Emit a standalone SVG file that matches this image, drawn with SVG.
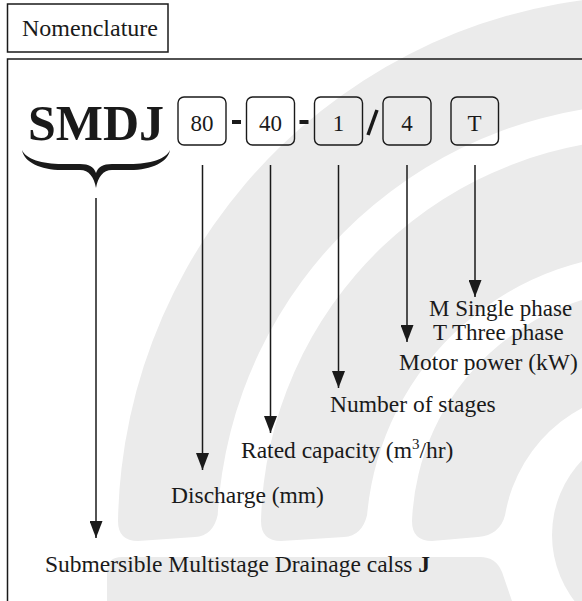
<svg xmlns="http://www.w3.org/2000/svg" width="582" height="601" viewBox="0 0 582 601">
<defs>
<style>
.t{font-family:"Liberation Serif","Times New Roman",serif;fill:#1a1a1a;font-size:23.5px}
.box{fill:none;stroke:#1a1a1a;stroke-width:1.5}
.code{fill:none;stroke:#1a1a1a;stroke-width:1.4}
.dig{font-family:"Liberation Serif","Times New Roman",serif;fill:#1a1a1a;font-size:23px;text-anchor:middle}
.ln{stroke:#1a1a1a;stroke-width:1.5;fill:none}
.wm{fill:#ebebeb}
</style>
<marker id="ah" markerUnits="userSpaceOnUse" markerWidth="17" markerHeight="13" viewBox="0 0 17 13" refX="17" refY="6.5" orient="auto">
<path d="M0,0 L17,6.5 L0,13 Z" fill="#1a1a1a"/>
</marker>
</defs>
<rect width="582" height="601" fill="#ffffff"/>
<g id="watermark">
<path class="wm" d="M118,521 A535,535 0 0 1 1188,540 L1089,540 A436,436 0 0 0 217.7,515 Q213,536 195,537 L138,541 Q118,541 118,521 Z"/>
<path class="wm" d="M261,521 A392,392 0 0 1 1045,540 L940,540 A287,287 0 0 0 367.1,515 Q362,536 344,537 L281,541 Q261,541 261,521 Z"/>
<path class="wm" d="M412,521 A241,241 0 0 1 894,540 L803,540 A150,150 0 0 0 505.1,515 Q500,535 478,537 L432,541 Q412,541 412,521 Z"/>
<circle class="wm" cx="660" cy="535" r="108"/>
<path class="wm" d="M107,601 L107,572 Q107,557 122,557 L480,557 Q496,557 502,572 L512,601 Z"/>
</g>
<g id="frame">
<rect class="box" x="7.5" y="59" width="600" height="600"/>
</g>
<g id="title">
<rect class="box" x="7.5" y="4" width="160.5" height="48"/>
<text class="t" x="22" y="36" style="font-size:24px">Nomenclature</text>
</g>
<g id="smdj">
<text x="28" y="140" style="font-family:'Liberation Serif','Times New Roman',serif;font-weight:bold;font-size:50px;fill:#1a1a1a">SMDJ</text>
<path d="M22,150 C24,162 40,170 62,170 L80,170 C89,170 94,177 96,188 C98,177 103,170 112,170 L130,170 C152,170 168,162 170,150 C166,159 150,164 130,164 L112,164 C103,164 98,167 96,173 C94,167 89,164 80,164 L62,164 C42,164 26,159 22,150 Z" fill="#1a1a1a"/>
</g>
<g id="code-80">
<rect class="code" x="178" y="97" width="48" height="48" rx="6"/>
<text class="dig" x="202" y="131">80</text>
</g>
<rect x="232" y="120" width="9" height="4" fill="#1a1a1a"/>
<g id="code-40">
<rect class="code" x="246.5" y="97" width="48" height="48" rx="6"/>
<text class="dig" x="270.5" y="131">40</text>
</g>
<rect x="299.5" y="120" width="9" height="4" fill="#1a1a1a"/>
<g id="code-1">
<rect class="code" x="314.5" y="97" width="48" height="48" rx="6"/>
<text class="dig" x="338.5" y="131">1</text>
</g>
<path d="M368,135 L377,110" stroke="#1a1a1a" stroke-width="3.5"/>
<g id="code-4">
<rect class="code" x="383" y="97" width="48" height="48" rx="6"/>
<text class="dig" x="407" y="131">4</text>
</g>
<g id="code-T">
<rect class="code" x="451" y="97" width="47.5" height="48" rx="6"/>
<text class="dig" x="474.5" y="131">T</text>
</g>
<g id="connectors">
<line class="ln" x1="96" y1="198" x2="96" y2="538" marker-end="url(#ah)"/>
<line class="ln" x1="202.5" y1="165" x2="202.5" y2="470" marker-end="url(#ah)"/>
<line class="ln" x1="270.5" y1="165" x2="270.5" y2="433" marker-end="url(#ah)"/>
<line class="ln" x1="338.5" y1="165" x2="338.5" y2="388" marker-end="url(#ah)"/>
<line class="ln" x1="407" y1="165" x2="407" y2="342" marker-end="url(#ah)"/>
<line class="ln" x1="475" y1="165" x2="475" y2="297" marker-end="url(#ah)"/>
</g>
<g id="label-phase">
<text class="t" x="429" y="316" style="font-size:23px">M Single phase</text>
<text class="t" x="433" y="340" style="font-size:23px">T Three phase</text>
</g>
<g id="label-power"><text class="t" x="399" y="370">Motor power (kW)</text></g>
<g id="label-stages"><text class="t" x="330" y="412">Number of stages</text></g>
<g id="label-capacity"><text class="t" x="241" y="458">Rated capacity (m<tspan dy="-9" style="font-size:15px">3</tspan><tspan dy="9">/hr)</tspan></text></g>
<g id="label-discharge"><text class="t" x="171" y="503">Discharge (mm)</text></g>
<g id="label-type"><text class="t" x="45" y="572">Submersible Multistage Drainage calss <tspan font-weight="bold">J</tspan></text></g>
</svg>
